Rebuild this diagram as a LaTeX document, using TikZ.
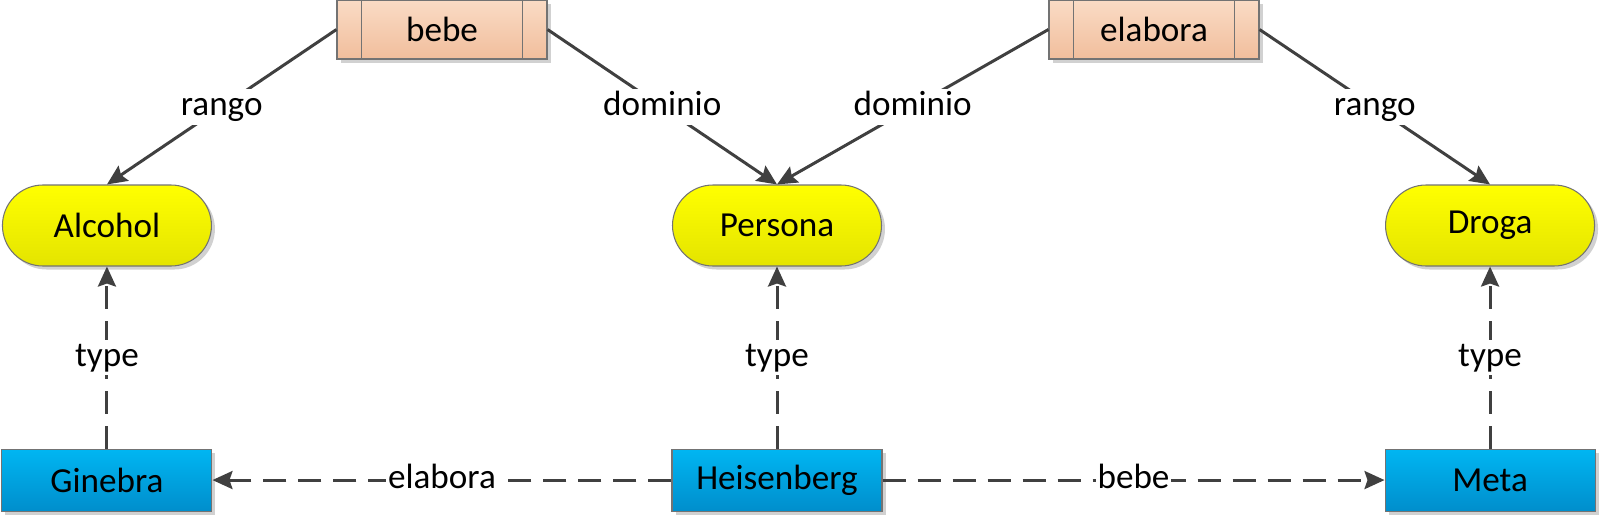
\documentclass[tikz,border=0pt]{standalone}
\usepackage{fontspec}
\setmainfont{Carlito}
\usetikzlibrary{arrows.meta, positioning, shadows}
\definecolor{linea}{RGB}{64,64,64}
\definecolor{amarilloA}{RGB}{255,255,0}
\definecolor{amarilloB}{RGB}{228,228,0}
\definecolor{azulA}{RGB}{0,182,242}
\definecolor{azulB}{RGB}{0,142,204}
\definecolor{salmonA}{RGB}{250,219,197}
\definecolor{salmonB}{RGB}{241,190,156}

\begin{document}
\begin{tikzpicture}[
  font=\fontsize{20}{24}\selectfont,
  sombra/.style={drop shadow={shadow xshift=0.07cm, shadow yshift=-0.07cm, fill=black!30, opacity=0.6}},
  clase/.style={rectangle, rounded corners=0.81cm, draw=black!55, line width=0.6pt,
              top color=amarilloA, bottom color=amarilloB, sombra,
              minimum width=4.18cm, minimum height=1.62cm, inner sep=0pt},
  individuo/.style={rectangle, draw=black!55, line width=0.6pt,
              top color=azulA, bottom color=azulB, sombra,
              minimum width=4.2cm, minimum height=1.24cm, inner sep=0pt},
  propiedad/.style={rectangle, draw=black!55, line width=0.6pt,
              top color=salmonA, bottom color=salmonB, sombra,
              minimum width=4.2cm, minimum height=1.18cm, inner sep=0pt},
  etiqueta/.style={fill=white, text=black, inner sep=1pt, text height=14pt, text depth=4pt},
  flecha/.style={-{Stealth[length=0.4cm, width=0.36cm, inset=0.06cm]}, line width=1.7pt, color=linea},
  punteada/.style={flecha, dash pattern=on 0.46cm off 0.24cm}
]
  \useasboundingbox (0,0) rectangle (32,10.32);
  % clases
  \node[clase] (persona) at (15.54,5.81) {Persona};
  \node[clase, left=9.2cm of persona] (alcohol) {Alcohol};
  \node[clase, right=10.06cm of persona] (droga) {Droga};
  % individuos
  \node[individuo, below=3.64cm of alcohol] (ginebra) {Ginebra};
  \node[individuo, below=3.64cm of persona] (heisenberg) {Heisenberg};
  \node[individuo, below=3.64cm of droga] (meta) {Meta};
  % propiedades
  \node[propiedad] (bebe) at (8.84,9.73) {bebe};
  \node[propiedad] (elabora) at (23.08,9.73) {elabora};
  \foreach \p in {bebe, elabora} {
    \draw[black!55, line width=0.6pt] ([xshift=0.5cm]\p.north west) -- ([xshift=0.5cm]\p.south west);
    \draw[black!55, line width=0.6pt] ([xshift=-0.5cm]\p.north east) -- ([xshift=-0.5cm]\p.south east);
  }
  % dominio y rango
  \draw[flecha] (bebe.west) -- node[etiqueta] {rango} (alcohol.north);
  \draw[flecha] (bebe.east) -- node[etiqueta] {dominio} (persona.north);
  \draw[flecha] (elabora.west) -- node[etiqueta] {dominio} (persona.north);
  \draw[flecha] (elabora.east) -- node[etiqueta] {rango} (droga.north);
  % tipos
  \draw[punteada] (ginebra) -- node[etiqueta] {type} (alcohol);
  \draw[punteada] (heisenberg) -- node[etiqueta] {type} (persona);
  \draw[punteada] (meta) -- node[etiqueta] {type} (droga);
  % relaciones
  \draw[punteada] (heisenberg) -- node[etiqueta] {elabora} (ginebra);
  \draw[punteada] (heisenberg) -- node[etiqueta] {bebe} (meta);
\end{tikzpicture}
\end{document}
